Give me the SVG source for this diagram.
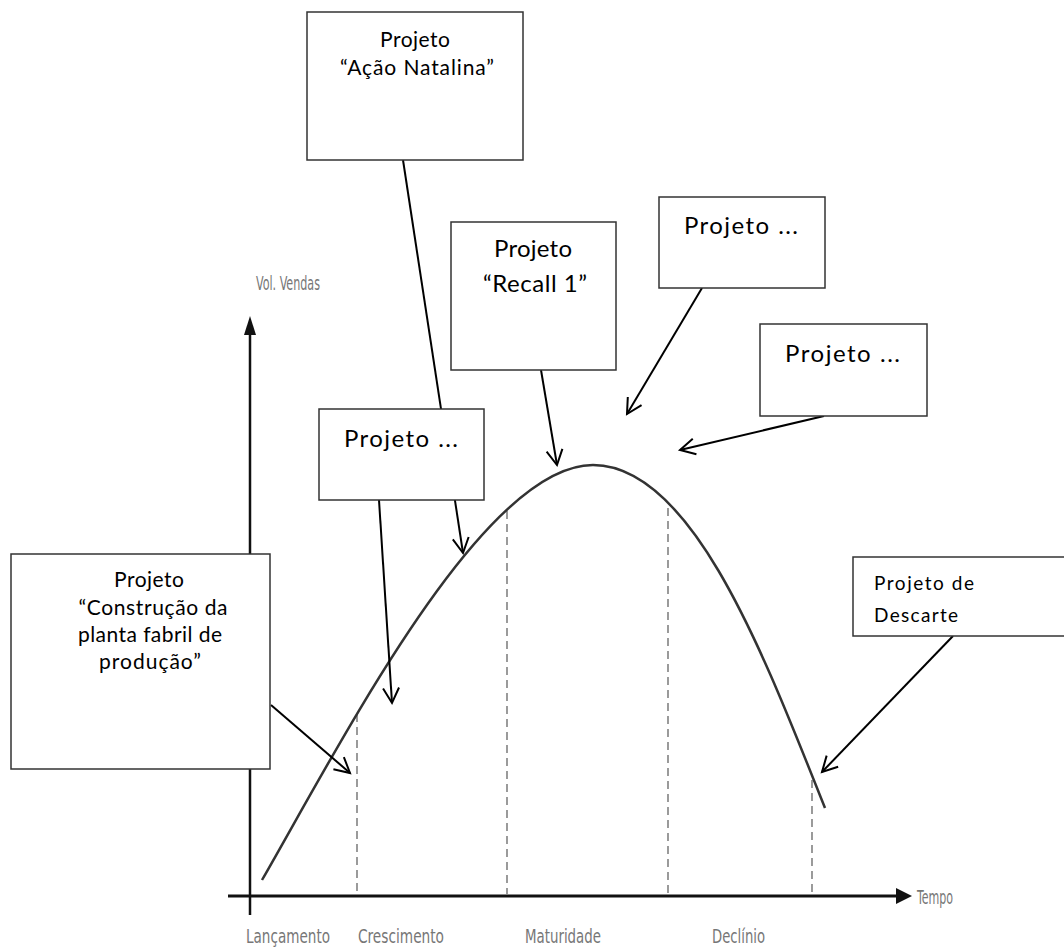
<svg xmlns="http://www.w3.org/2000/svg" width="1064" height="950" viewBox="0 0 1064 950">
<style>
.box{fill:#fff;stroke:#333;stroke-width:1.5}
.t{font-family:Lato,"Open Sans",sans-serif;fill:#000}
.ax{font-family:"DejaVu Sans Condensed","DejaVu Sans",sans-serif;fill:#777;font-size:20px}
.con{stroke:#000;stroke-width:2;fill:none;marker-end:url(#open)}
.dash{stroke:#666;stroke-width:1.3;stroke-dasharray:8 5;fill:none}
</style>
<defs>
<marker id="open" markerUnits="userSpaceOnUse" markerWidth="30" markerHeight="30" refX="0" refY="0" viewBox="-20 -15 30 30" orient="auto" overflow="visible">
<path d="M-15,-8 L0,0 L-15,8" fill="none" stroke="#000" stroke-width="2"/>
</marker>
</defs>
<rect width="1064" height="950" fill="#fff"/>
<g id="chart">
<line x1="250" y1="915" x2="250" y2="330" stroke="#111" stroke-width="2.5"/>
<polygon points="250,316 244,335 256,335" fill="#111"/>
<line x1="228" y1="896" x2="898" y2="896" stroke="#111" stroke-width="3"/>
<polygon points="912,896 896,888 896,904" fill="#111"/>
<line class="dash" x1="357" y1="714" x2="357" y2="894"/>
<line class="dash" x1="507" y1="511" x2="507" y2="894"/>
<line class="dash" x1="668" y1="508" x2="668" y2="894"/>
<line class="dash" x1="812" y1="780" x2="812" y2="894"/>
<path d="M262,880 C342,741 483,465 593,465 C693,465 765,658 825,808" fill="none" stroke="#333" stroke-width="2.5"/>
<text class="ax" x="256" y="290" textLength="64" lengthAdjust="spacingAndGlyphs">Vol. Vendas</text>
<text class="ax" x="917" y="904" textLength="36" lengthAdjust="spacingAndGlyphs">Tempo</text>
<text class="ax" x="246" y="943" textLength="84" lengthAdjust="spacingAndGlyphs">Lançamento</text>
<text class="ax" x="358" y="943" textLength="86" lengthAdjust="spacingAndGlyphs">Crescimento</text>
<text class="ax" x="525" y="943" textLength="76" lengthAdjust="spacingAndGlyphs">Maturidade</text>
<text class="ax" x="712" y="943" textLength="53" lengthAdjust="spacingAndGlyphs">Declínio</text>
</g>
<g id="connectors">
<line class="con" x1="403" y1="160" x2="463" y2="553"/>
<line class="con" x1="379" y1="500" x2="392" y2="703"/>
<line class="con" x1="271" y1="705" x2="350" y2="773"/>
<line class="con" x1="541" y1="370" x2="557" y2="465"/>
<line class="con" x1="702" y1="288" x2="627" y2="414"/>
<line class="con" x1="824" y1="416" x2="680" y2="450"/>
<line class="con" x1="953" y1="636" x2="822" y2="772"/>
</g>
<g id="natalina">
<rect class="box" x="307" y="12" width="216" height="148"/>
<text class="t" x="415" y="47" font-size="21" text-anchor="middle" textLength="70">Projeto</text>
<text class="t" x="417" y="75" font-size="21" text-anchor="middle" textLength="154">“Ação Natalina”</text>
</g>
<g id="recall">
<rect class="box" x="451" y="222" width="165" height="148"/>
<text class="t" x="533" y="257" font-size="24" text-anchor="middle" textLength="78">Projeto</text>
<text class="t" x="535" y="292" font-size="24" text-anchor="middle" textLength="104">“Recall 1”</text>
</g>
<g id="projeto-top-right">
<rect class="box" x="659" y="197" width="166" height="91"/>
<text class="t" x="684" y="234" font-size="24" textLength="114">Projeto ...</text>
</g>
<g id="projeto-right">
<rect class="box" x="760" y="324" width="167" height="92"/>
<text class="t" x="785" y="362" font-size="24" textLength="115">Projeto ...</text>
</g>
<g id="projeto-left">
<rect class="box" x="319" y="409" width="165" height="91"/>
<text class="t" x="344" y="447" font-size="24" textLength="114">Projeto ...</text>
</g>
<g id="construcao">
<rect class="box" x="11" y="554" width="259" height="215"/>
<text class="t" x="149" y="587" font-size="21" text-anchor="middle" textLength="70">Projeto</text>
<text class="t" x="153" y="615" font-size="21" text-anchor="middle" textLength="149">“Construção da</text>
<text class="t" x="150" y="642" font-size="21" text-anchor="middle" textLength="144">planta fabril de</text>
<text class="t" x="150" y="669" font-size="21" text-anchor="middle" textLength="102">produção”</text>
</g>
<g id="descarte">
<rect class="box" x="853" y="557" width="215" height="79"/>
<text class="t" x="874" y="590" font-size="19" textLength="100">Projeto de</text>
<text class="t" x="874" y="622" font-size="19" textLength="84">Descarte</text>
</g>
</svg>
